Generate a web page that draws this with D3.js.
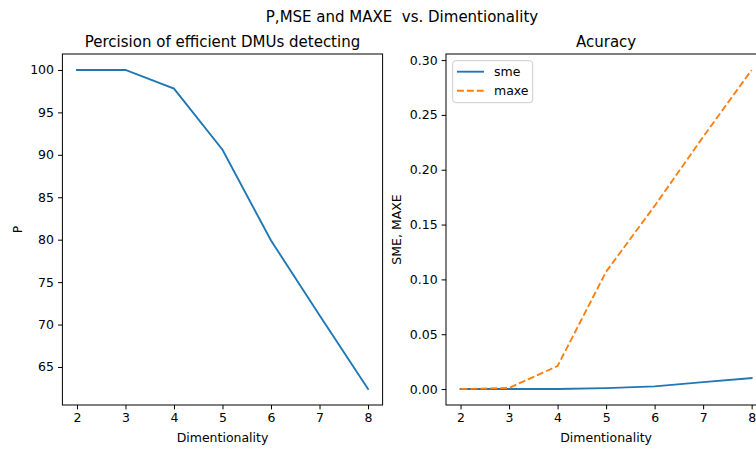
<!DOCTYPE html>
<html><head><meta charset="utf-8">
<script src="https://cdn.jsdelivr.net/npm/d3@7"></script>
<style>body{margin:0;background:#fff}svg{display:block;font-family:"DejaVu Sans",sans-serif}</style>
</head><body><svg id="c" width="756" height="449"></svg>
<script>
const dims = [2,3,4,5,6,7,8];
const precision = [100,100,97.8,90.6,79.9,71.1,62.4];
const sme = [0,0,0,0.0008,0.0024,0.0063,0.0100];
const maxe = [0,0.001,0.021,0.107,0.167,0.230,0.291];
const xTicks = [2,3,4,5,6,7,8];
const pTicks = [65,70,75,80,85,90,95,100];
const eTicks = [0,0.05,0.10,0.15,0.20,0.25,0.30];

const svg = d3.select("#c");
const blue="#1f77b4", orange="#ff7f0e";
const FS="12.5px", TS="15px", LW=1.875, DASH="6.9,3";

function pad(lo,hi){const m=(hi-lo)*0.05;return [lo-m,hi+m];}

function panel(x0,x1,y0,y1,yDom,yTicks,yFmt,title,ylabel,ylabX,series){
  const x=d3.scaleLinear().domain(pad(2,8)).range([x0,x1]);
  const y=d3.scaleLinear().domain(yDom).range([y1,y0]);
  const g=svg.append("g");
  const clipId="clip"+Math.round(x0);
  g.append("clipPath").attr("id",clipId).append("rect").attr("x",x0).attr("y",y0).attr("width",x1-x0).attr("height",y1-y0);
  series.forEach(s=>{
    g.append("path").datum(s.vals).attr("clip-path",`url(#${clipId})`)
      .attr("fill","none").attr("stroke",s.color).attr("stroke-width",LW)
      .attr("stroke-dasharray",s.dash||null).attr("stroke-linecap",s.dash?"butt":"square")
      .attr("d",d3.line().x((d,i)=>x(dims[i])).y(d=>y(d)));
  });
  g.append("rect").attr("x",x0).attr("y",y0).attr("width",x1-x0).attr("height",y1-y0)
    .attr("fill","none").attr("stroke","#000").attr("stroke-width",1);
  const xa=g.append("g").attr("transform",`translate(0,${y1})`)
    .call(d3.axisBottom(x).tickValues(xTicks).tickSize(4.4).tickPadding(4).tickFormat(d3.format("d")));
  const ya=g.append("g").attr("transform",`translate(${x0},0)`)
    .call(d3.axisLeft(y).tickValues(yTicks).tickSize(4.4).tickPadding(4).tickFormat(yFmt));
  [xa,ya].forEach(a=>{a.select(".domain").remove();
    a.selectAll("text").attr("font-size",FS).attr("fill","#000").attr("font-family","DejaVu Sans");
    a.selectAll("line").attr("stroke","#000").attr("stroke-width",1);});
  g.append("text").attr("x",(x0+x1)/2).attr("y",y0-7).attr("text-anchor","middle")
    .attr("font-size",TS).text(title);
  g.append("text").attr("x",(x0+x1)/2).attr("y",441.5).attr("text-anchor","middle")
    .attr("font-size",FS).text("Dimentionality");
  g.append("text").attr("transform",`translate(${ylabX},${(y0+y1)/2}) rotate(-90)`)
    .attr("text-anchor","middle").attr("font-size",FS).text(ylabel);
  return {x,y,g};
}

svg.append("text").attr("x",402).attr("y",21.5).attr("text-anchor","middle")
  .attr("font-size",TS).style("white-space","pre").text("P,MSE and MAXE  vs. Dimentionality");

panel(62.4,382.6,54,405,pad(62.4,100),pTicks,d3.format("d"),
  "Percision of efficient DMUs detecting","P",22,[{vals:precision,color:blue}]);

panel(446,766.2,54,405,pad(0,0.291),eTicks,d3.format(".2f"),
  "Acuracy","SME, MAXE",401,[{vals:sme,color:blue},{vals:maxe,color:orange,dash:DASH}]);

const lg=svg.append("g");
lg.append("rect").attr("x",452.7).attr("y",60.7).attr("width",80).attr("height",42).attr("rx",3)
  .attr("fill","#fff").attr("fill-opacity",0.8).attr("stroke","#ccc").attr("stroke-width",1);
[["sme",blue,null,71.7],["maxe",orange,DASH,90.7]].forEach(([t,c,da,yy])=>{
  lg.append("line").attr("x1",457).attr("x2",484).attr("y1",yy).attr("y2",yy)
    .attr("stroke",c).attr("stroke-width",LW).attr("stroke-dasharray",da);
  lg.append("text").attr("x",494).attr("y",yy+4.5).attr("font-size",FS).text(t);
});
</script></body></html>
